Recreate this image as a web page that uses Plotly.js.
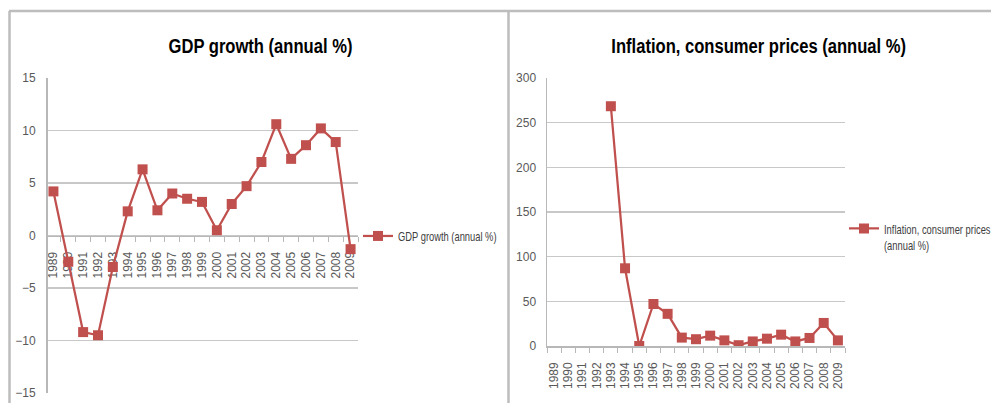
<!DOCTYPE html>
<html>
<head>
<meta charset="utf-8">
<script src="https://cdn.plot.ly/plotly-3.0.1.min.js"></script>
<style>
  html, body { margin: 0; padding: 0; background: #fff; }
  #chart { width: 991px; height: 403px; }
  /* narrow, Calibri-like proportions for titles and legend entries */
  #chart .annotation-text {
    transform-box: fill-box; transform-origin: center; transform: scaleX(0.79);
  }
  #chart g.legend text, #chart g.legend2 text {
    transform-box: fill-box; transform-origin: left center; transform: scaleX(0.72);
  }
</style>
</head>
<body>
<div id="chart"></div>
<script>
// Years shown on both category axes
const years = ['1989','1990','1991','1992','1993','1994','1995','1996','1997','1998','1999',
               '2000','2001','2002','2003','2004','2005','2006','2007','2008','2009'];

// GDP growth (annual %)
const gdpGrowth = [4.2, -2.5, -9.2, -9.5, -3.0, 2.3, 6.3, 2.4, 4.0, 3.5, 3.2,
                   0.5, 3.0, 4.7, 7.0, 10.6, 7.3, 8.6, 10.2, 8.9, -1.3];

// Inflation, consumer prices (annual %); no figures before 1993
const inflation = [null, null, null, null, 268.4, 87.0, 0, 47.0, 36.0, 9.4, 7.6,
                   11.6, 6.3, 0.9, 5.1, 8.2, 12.7, 5.1, 9.0, 25.8, 6.3];

const titleLeft = 'GDP growth (annual %)';
const titleRight = 'Inflation, consumer prices (annual %)';

const W = 991, H = 403;
const px = v => v / W;          // horizontal pixel -> paper fraction
const py = v => 1 - v / H;      // vertical pixel -> paper fraction

const RED = '#C0504D';
const GRID = '#c8c8c8';
const AXIS = '#b8b8b8';
const FONT = '"Liberation Sans", Arial, sans-serif';
const YTICKFONT = { family: FONT, size: 12, color: '#595959' };
const XTICKFONT = { family: FONT, size: 12, color: '#595959' };

const series = (x, y, name, xa, ya, legend) => ({
  type: 'scatter', mode: 'lines+markers',
  x: x, y: y, name: name, xaxis: xa, yaxis: ya, legend: legend,
  connectgaps: false,
  line: { color: RED, width: 2.25 },
  marker: { color: RED, symbol: 'square', size: 10 }
});

const traces = [
  series(years, gdpGrowth, titleLeft, 'x', 'y', 'legend'),
  series(years, inflation, 'Inflation, consumer prices<br>(annual %)', 'x2', 'y2', 'legend2')
];

// left panel: value axis -15..15, category axis crossing at zero
const leftTop = 78, leftBottom = 393;
const zeroPx = leftTop + (leftBottom - leftTop) / 2;

const catAxis = {
  type: 'category', range: [-0.5, 20.5], tickmode: 'linear', tick0: 0, dtick: 1,
  layer: 'below traces', showgrid: false, showline: true, linecolor: AXIS, linewidth: 1.5,
  ticks: 'outside', tickson: 'boundaries', ticklen: 5, tickcolor: AXIS,
  tickangle: -90, tickfont: XTICKFONT, ticklabelstandoff: 10, fixedrange: true
};

const layout = {
  width: W, height: H,
  margin: { l: 0, r: 0, t: 0, b: 0, autoexpand: false },
  paper_bgcolor: '#fff', plot_bgcolor: 'rgba(0,0,0,0)',
  font: { family: FONT, color: '#404040' },
  showlegend: true,
  xaxis: Object.assign({}, catAxis, {
    domain: [px(46), px(358)], anchor: 'free', position: py(zeroPx)
  }),
  yaxis: {
    domain: [py(leftBottom), py(leftTop)], range: [-15, 15], dtick: 5,
    anchor: 'free', position: px(46),
    showgrid: true, gridcolor: GRID, gridwidth: 1.5, zeroline: false,
    showline: true, linecolor: AXIS, linewidth: 1.5,
    ticks: '', ticklabelstandoff: 8, tickfont: YTICKFONT, fixedrange: true
  },
  xaxis2: Object.assign({}, catAxis, {
    domain: [px(547), px(845)], anchor: 'y2'
  }),
  yaxis2: {
    domain: [py(346), py(78)], range: [0, 300], dtick: 50,
    anchor: 'x2',
    showgrid: true, gridcolor: GRID, gridwidth: 1.5, zeroline: false,
    showline: true, linecolor: AXIS, linewidth: 1.5,
    ticks: '', ticklabelstandoff: 7, tickfont: YTICKFONT, fixedrange: true
  },
  legend: {
    x: px(358), y: py(236), xanchor: 'left', yanchor: 'middle',
    bgcolor: 'rgba(0,0,0,0)', font: { family: FONT, size: 13, color: '#404040' },
    itemwidth: 30
  },
  legend2: {
    x: px(844), y: py(237), xanchor: 'left', yanchor: 'middle', valign: 'top',
    bgcolor: 'rgba(0,0,0,0)', font: { family: FONT, size: 13, color: '#404040' },
    itemwidth: 30
  },
  annotations: [
    { text: '<b>' + titleLeft + '</b>', xref: 'paper', yref: 'paper',
      x: px(260), y: py(45), xanchor: 'center', yanchor: 'middle', showarrow: false,
      font: { family: FONT, size: 21, color: '#000' } },
    { text: '<b>' + titleRight + '</b>', xref: 'paper', yref: 'paper',
      x: px(758), y: py(45), xanchor: 'center', yanchor: 'middle', showarrow: false,
      font: { family: FONT, size: 21, color: '#000' } }
  ],
  shapes: [
    // chart frames
    { type: 'line', xref: 'paper', yref: 'paper', x0: px(9), x1: 1, y0: py(11), y1: py(11),
      line: { color: '#bdbdbd', width: 2.5 } },
    { type: 'line', xref: 'paper', yref: 'paper', x0: px(9.5), x1: px(9.5), y0: py(11), y1: 0,
      line: { color: '#bdbdbd', width: 2.5 } },
    { type: 'line', xref: 'paper', yref: 'paper', x0: px(508.5), x1: px(508.5), y0: py(11), y1: 0,
      line: { color: '#bdbdbd', width: 2.5 } }
  ]
};

Plotly.newPlot('chart', traces, layout, { displayModeBar: false, staticPlot: true });
</script>
</body>
</html>
